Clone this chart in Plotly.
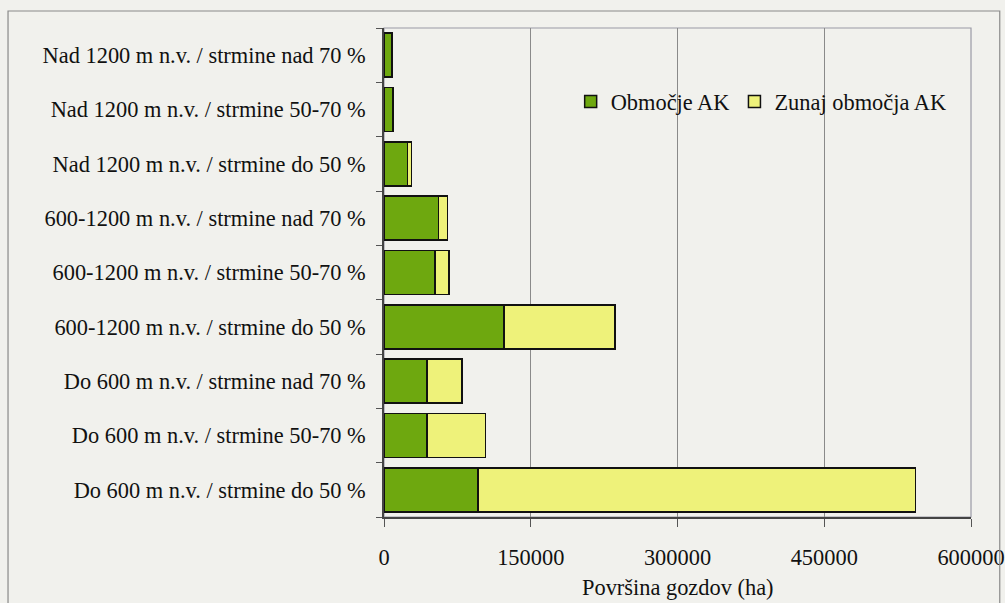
import plotly.graph_objects as go

categories = [
    "Nad 1200 m n.v. / strmine nad 70 %",
    "Nad 1200 m n.v. / strmine 50-70 %",
    "Nad 1200 m n.v. / strmine do 50 %",
    "600-1200 m n.v. / strmine nad 70 %",
    "600-1200 m n.v. / strmine 50-70 %",
    "600-1200 m n.v. / strmine do 50 %",
    "Do 600 m n.v. / strmine nad 70 %",
    "Do 600 m n.v. / strmine 50-70 %",
    "Do 600 m n.v. / strmine do 50 %",
]
obmocje_ak = [7500, 8500, 24000, 55500, 52000, 122500, 44000, 44000, 96000]
zunaj_ak = [800, 600, 4200, 9500, 14400, 113500, 35800, 59800, 447400]
x_ticks = [0, 150000, 300000, 450000, 600000]
x_tick_labels = ["0", "150000", "300000", "450000", "600000"]

FONT = "Liberation Serif, Times New Roman, serif"
BG = "#f1f1ed"

fig = go.Figure()
fig.add_trace(go.Bar(
    y=categories, x=obmocje_ak, orientation="h", name="Območje AK",
    marker=dict(color="#6ea80f", line=dict(color="#111111", width=1.5)),
))
fig.add_trace(go.Bar(
    y=categories, x=zunaj_ak, orientation="h", name="Zunaj območja AK",
    marker=dict(color="#eef27a", line=dict(color="#111111", width=1.5)),
))

fig.update_layout(
    barmode="stack",
    bargap=0.19,
    width=1005, height=603,
    margin=dict(l=384, r=34, t=28, b=86),
    paper_bgcolor=BG, plot_bgcolor=BG,
    font=dict(family=FONT, size=22.4, color="#111111"),
    showlegend=True,
    legend=dict(
        orientation="h", x=0.318, y=0.849, xanchor="left", yanchor="middle",
        bgcolor="rgba(0,0,0,0)", font=dict(family=FONT, size=22.4),
        itemwidth=30, tracegroupgap=0, traceorder="normal",
    ),
    xaxis=dict(
        range=[0, 600000], tickvals=x_ticks, ticktext=x_tick_labels,
        showgrid=True, gridcolor="#8a8a8a", gridwidth=1,
        ticks="outside", ticklen=8, tickcolor="#555555",
        showline=True, linecolor="#444444", linewidth=1.5,
        zeroline=False, ticklabelstandoff=11, automargin=False,
    ),
    yaxis=dict(
        categoryorder="array", categoryarray=categories[::-1],
        ticks="outside", ticklen=6, tickcolor="#555555",
        tickson="boundaries",
        showline=True, linecolor="#444444", linewidth=1.5,
        showgrid=False, ticklabelstandoff=12, automargin=False,
    ),
    shapes=[
        dict(type="rect", xref="paper", yref="paper", x0=0, x1=1, y0=0, y1=1,
             line=dict(color="#9a9aa6", width=1.2), layer="below"),
        dict(type="rect", xref="paper", yref="paper", x0=-0.6405, x1=1.049,
             y0=-0.25, y1=1.0348, line=dict(color="#8a8a8a", width=1.2)),
    ],
    annotations=[
        dict(text="Površina gozdov (ha)", xref="paper", yref="paper",
             x=0.5, y=-0.145, xanchor="center", yanchor="middle",
             showarrow=False, font=dict(family=FONT, size=22.4)),
    ],
)

fig.write_html(
    "out.html",
    config={"displayModeBar": False},
    post_script="document.body.style.margin='0';"
                "document.body.style.overflow='hidden';"
                "document.body.style.background='#f1f1ed';",
)
